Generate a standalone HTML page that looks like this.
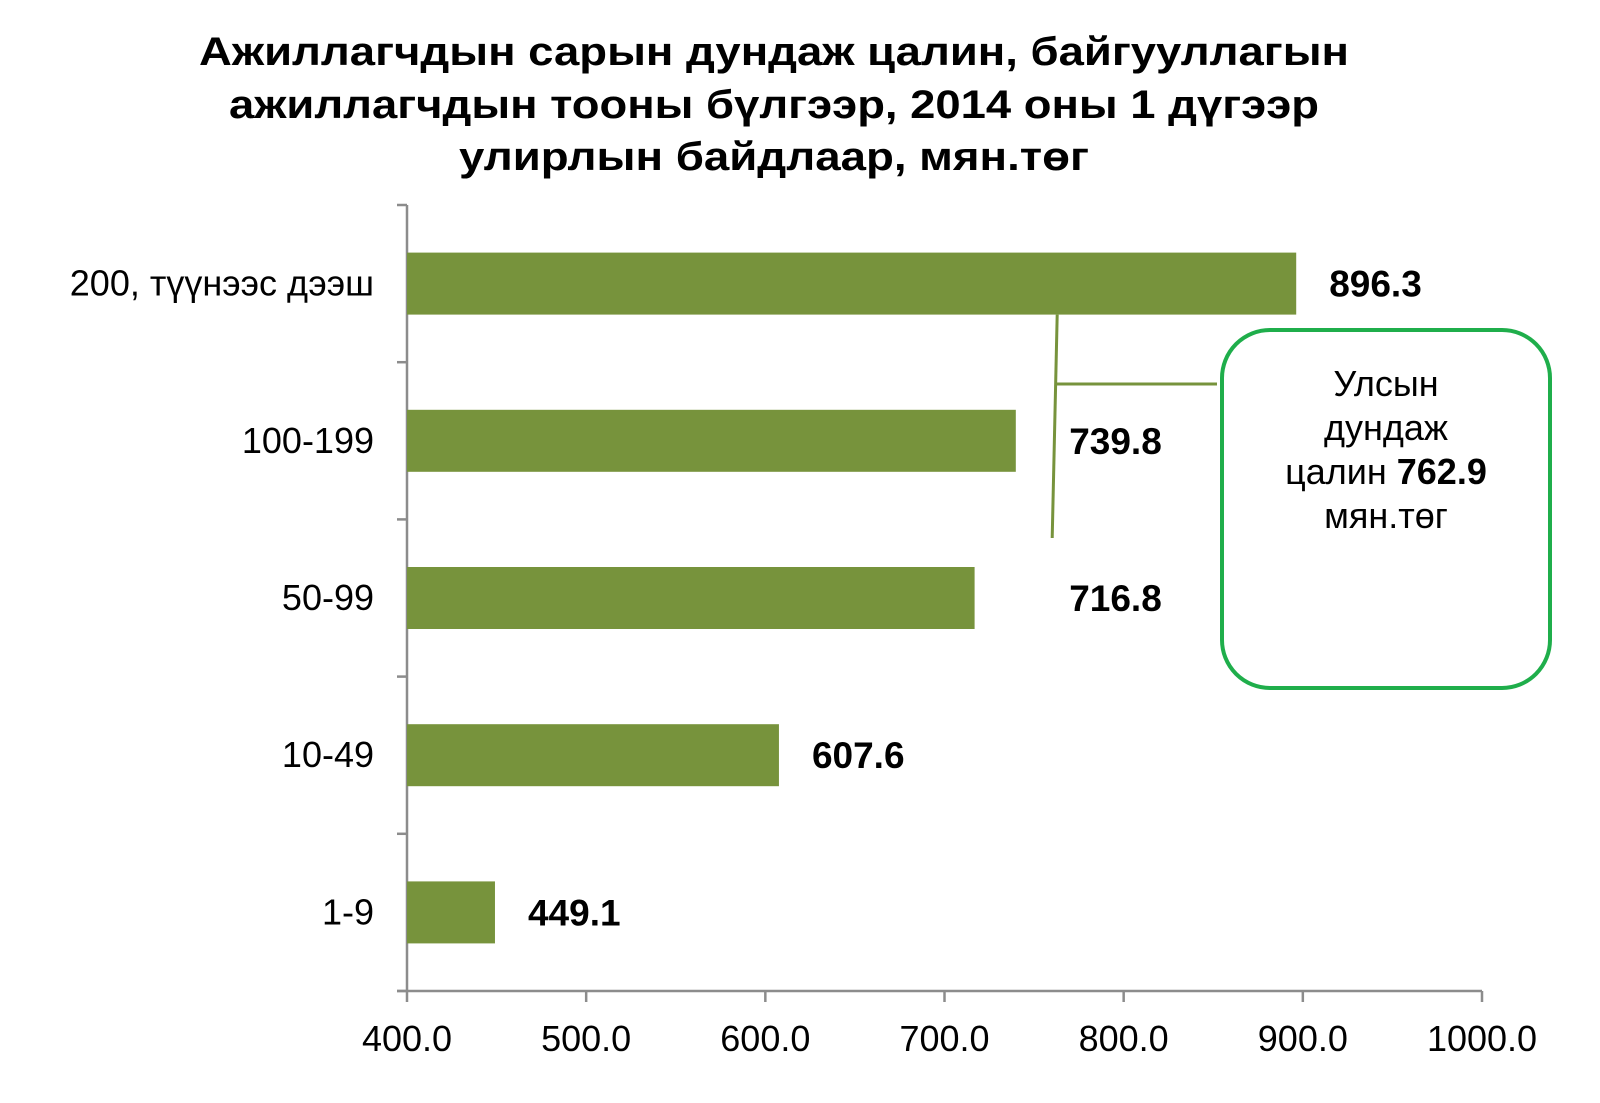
<!DOCTYPE html>
<html><head><meta charset="utf-8"><style>
html,body{margin:0;padding:0;background:#fff}
svg{display:block;font-family:"Liberation Sans",sans-serif}
</style></head><body>
<svg id="chart" width="1600" height="1103" viewBox="0 0 1600 1103" xmlns="http://www.w3.org/2000/svg">
<g font-weight="bold" font-size="40" text-anchor="middle" fill="#000">
<text x="774" y="65" textLength="1150" lengthAdjust="spacingAndGlyphs">Ажиллагчдын сарын дундаж цалин, байгууллагын</text>
<text x="774" y="118" textLength="1090" lengthAdjust="spacingAndGlyphs">ажиллагчдын тооны бүлгээр, 2014 оны 1 дүгээр</text>
<text x="774" y="170" textLength="630" lengthAdjust="spacingAndGlyphs">улирлын байдлаар, мян.төг</text>
</g>
<g id="plot"></g>
</svg>
<script>
const categories = ["200, түүнээс дээш","100-199","50-99","10-49","1-9"];
const values = [896.3,739.8,716.8,607.6,449.1];
const valueLabels = ["896.3","739.8","716.8","607.6","449.1"];
const xTicks = [400,500,600,700,800,900,1000];
const xTickLabels = ["400.0","500.0","600.0","700.0","800.0","900.0","1000.0"];
const nationalAvg = 762.9;

const NS="http://www.w3.org/2000/svg";
const plot=document.getElementById('plot');
const X0=407,X1=1482,Y0=205,Y1=991;
const xMin=400,xMax=1000;
const xs=v=>X0+(v-xMin)/(xMax-xMin)*(X1-X0);
const band=(Y1-Y0)/categories.length;
const yc=i=>Y0+band*(i+0.5);
function mk(tag,attrs){const e=document.createElementNS(NS,tag);for(const k in attrs)e.setAttribute(k,attrs[k]);plot.appendChild(e);return e;}

let ax=mk('line',{x1:X0,y1:Y0,x2:X0,y2:Y1,stroke:'#8c8c8c','stroke-width':2.5});


let axx=mk('line',{x1:X0-10,y1:Y1,x2:X1,y2:Y1,stroke:'#8c8c8c','stroke-width':2.5});


for(let i=0;i<=categories.length;i++){
  const y=Y0+band*i;
  const t=mk('line',{x1:X0-10,y1:y,x2:X0,y2:y,stroke:'#8c8c8c','stroke-width':2.5});
  
  
}
xTicks.forEach((v,i)=>{
  const x=xs(v);
  const t=mk('line',{x1:x,y1:Y1,x2:x,y2:Y1+11,stroke:'#8c8c8c','stroke-width':2.5});
  
  
  const l=mk('text',{x:x,y:Y1+60,'font-size':36,'text-anchor':'middle',fill:'#000'});
  l.textContent=xTickLabels[i];
  
  
});
const lineX=xs(nationalAvg);
categories.forEach((c,i)=>{
  const y=yc(i),h=62;
  const end=xs(values[i]);
  const b=mk('rect',{x:X0,y:y-h/2,width:end-X0,height:h,fill:'#77933c'});
  
  
  const cl=mk('text',{x:374,y:y+12,'font-size':36,'text-anchor':'end',fill:'#000'});
  cl.textContent=c;
  
  
  let lx=end+33;
  if(end<lineX && lx+95>lineX) lx=lineX+12;
  const vl=mk('text',{x:lx,y:y+13,'font-size':37,'font-weight':'bold',fill:'#000'});
  vl.textContent=valueLabels[i];
  
  
});
const vline=mk('line',{x1:lineX,y1:yc(0)+31,x2:lineX-5,y2:538,stroke:'#77933c','stroke-width':3});


const hline=mk('line',{x1:lineX-2,y1:384,x2:1217,y2:384,stroke:'#77933c','stroke-width':3});


const box=mk('rect',{x:1222,y:330,width:328,height:358,rx:48,ry:48,fill:'#fff',stroke:'#1fae4b','stroke-width':4});


const lines=[["Улсын",""],["дундаж",""],["цалин  ",nationalAvg.toFixed(1)],["мян.төг",""]];
lines.forEach((ln,i)=>{
  const t=mk('text',{x:1386,y:396+i*44,'font-size':36,'text-anchor':'middle',fill:'#000'});
  t.setAttribute('xml:space','preserve');
  t.textContent=ln[0];
  if(ln[1]){const s=document.createElementNS(NS,'tspan');s.setAttribute('font-weight','bold');s.textContent=ln[1];t.appendChild(s);}
  
  
});
</script>
</body></html>
